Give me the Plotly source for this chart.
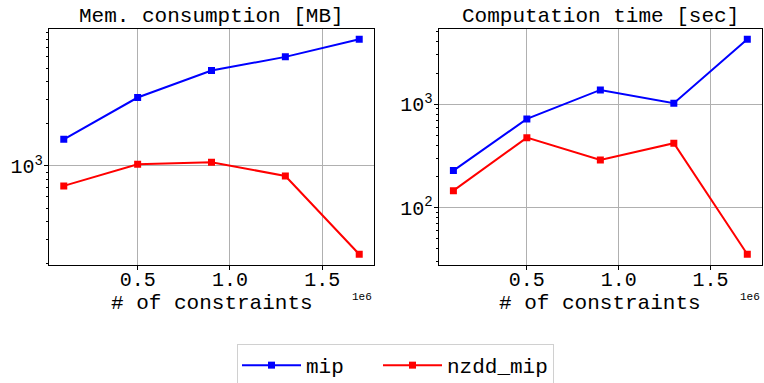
import numpy as np
import plotly.graph_objects as go

# ---- data ----
constraints = [100000, 500000, 900000, 1300000, 1700000]
mem_mip = [1550, 3080, 4800, 6010, 8030]
mem_nzdd = [720, 1028, 1063, 848, 234]
time_mip = [228, 721, 1375, 1022, 4250]
time_nzdd = [146, 475, 289, 420, 35.4]

series_names = ["mip", "nzdd_mip"]
series_colors = ["#0000ff", "#ff0000"]
panel_titles = ["Mem. consumption [MB]", "Computation time [sec]"]
x_title = "# of constraints"
x_tickvals = [500000, 1000000, 1500000]
x_ticktext = ["0.5", "1.0", "1.5"]

FONT = "Liberation Mono"
W, H = 764, 383


def log_range(*arrs):
    vals = np.log10(np.concatenate([np.asarray(a, float) for a in arrs]))
    lo, hi = vals.min(), vals.max()
    pad = 0.05 * (hi - lo)
    return [lo - pad, hi + pad]


xmin, xmax = min(constraints), max(constraints)
xpad = 0.05 * (xmax - xmin)
xrange_ = [xmin - xpad, xmax + xpad]

fig = go.Figure()
panels = [(mem_mip, mem_nzdd, "x", "y"), (time_mip, time_nzdd, "x2", "y2")]
for pi, (a, b, xa, ya) in enumerate(panels):
    for si, vals in enumerate([a, b]):
        fig.add_trace(go.Scatter(
            x=constraints, y=vals, xaxis=xa, yaxis=ya,
            mode="lines+markers", name=series_names[si],
            legendgroup=series_names[si], showlegend=(pi == 0),
            legendwidth=(67 if si == 0 else None),
            line=dict(color=series_colors[si], width=2),
            marker=dict(symbol="square", size=7, color=series_colors[si]),
        ))

ydom = [1 - 265 / H, 1 - 28.5 / H]
xdoms = [[49 / W, 374 / W], [438.7 / W, 762 / W]]

axis_common = dict(
    showline=True, mirror=True, linecolor="black", linewidth=1,
    ticks="outside", ticklen=4, tickcolor="black",
    showgrid=True, gridcolor="#b0b0b0", gridwidth=1,
    zeroline=False, automargin=False,
    tickfont=dict(family=FONT, size=20, color="black"),
)

minor_left = [200, 300, 400, 500, 600, 700, 800, 900,
              2000, 3000, 4000, 5000, 6000, 7000, 8000, 9000]
minor_right = [30, 40, 50, 60, 70, 80, 90,
               200, 300, 400, 500, 600, 700, 800, 900,
               2000, 3000, 4000, 5000]

fig.update_layout(
    width=W, height=H,
    margin=dict(l=0, r=0, t=0, b=0, autoexpand=False),
    paper_bgcolor="white", plot_bgcolor="white",
    font=dict(family=FONT, color="black"),
    xaxis=dict(domain=xdoms[0], anchor="y", range=xrange_,
               tickmode="array", tickvals=x_tickvals, ticktext=x_ticktext,
               ticklabelstandoff=-8, **axis_common),
    yaxis=dict(domain=ydom, anchor="x", type="log",
               range=log_range(mem_mip, mem_nzdd),
               tickmode="array", tickvals=[1000], ticktext=["10<sup>3</sup>"],
               ticklabelstandoff=-3,
               minor=dict(tickmode="array", tickvals=minor_left, ticks="outside",
                          ticklen=2, tickcolor="black", showgrid=False),
               **axis_common),
    xaxis2=dict(domain=xdoms[1], anchor="y2", range=xrange_,
                tickmode="array", tickvals=x_tickvals, ticktext=x_ticktext,
                ticklabelstandoff=-8, **axis_common),
    yaxis2=dict(domain=ydom, anchor="x2", type="log",
                range=log_range(time_mip, time_nzdd),
                tickmode="array", tickvals=[100, 1000],
                ticktext=["10<sup>2</sup>", "10<sup>3</sup>"],
                ticklabelstandoff=-3,
                minor=dict(tickmode="array", tickvals=minor_right, ticks="outside",
                           ticklen=2, tickcolor="black", showgrid=False),
                **axis_common),
    legend=dict(orientation="h", x=237 / W, xanchor="left",
                y=1 - 344 / H, yanchor="top",
                bordercolor="#d0d0d0", borderwidth=1, bgcolor="white",
                font=dict(family=FONT, size=21, color="black"),
                itemwidth=59, tracegroupgap=0),
    showlegend=True,
)

annotations = []
for i, (xd, title) in enumerate(zip(["x domain", "x2 domain"], panel_titles)):
    annotations.append(dict(text=title, xref=xd, x=0.5, xanchor="center",
                            yref="paper", y=1 - 16.6 / H, yanchor="middle",
                            showarrow=False,
                            font=dict(family=FONT, size=21, color="black")))
    annotations.append(dict(text=x_title, xref=xd, x=0.5, xanchor="center",
                            yref="paper", y=1 - 303 / H, yanchor="middle",
                            showarrow=False,
                            font=dict(family=FONT, size=21, color="black")))
    annotations.append(dict(text="1e6", xref=xd, x=1.0, xanchor="right",
                            yref="paper", y=1 - 297 / H, yanchor="middle",
                            showarrow=False,
                            font=dict(family=FONT, size=11, color="black")))
fig.update_layout(annotations=annotations)

fig.write_html(
    "out.html",
    config={"displayModeBar": False},
    post_script="document.body.style.margin='0';document.body.style.padding='0';",
)
